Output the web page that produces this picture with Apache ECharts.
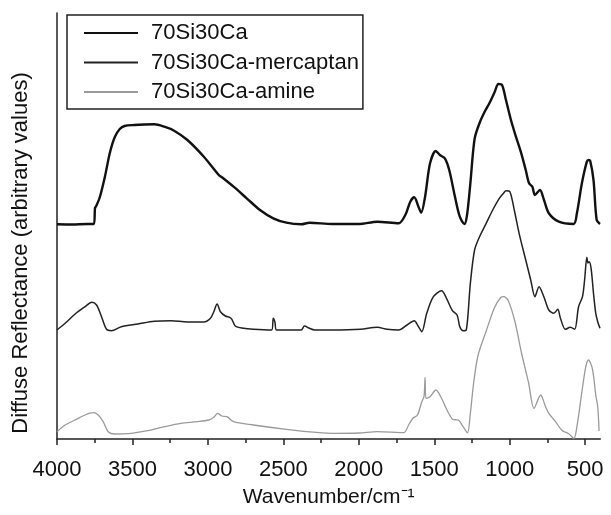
<!DOCTYPE html>
<html>
<head>
<meta charset="utf-8">
<script src="https://cdn.jsdelivr.net/npm/echarts@6/dist/echarts.min.js"></script>
<style>html,body{margin:0;padding:0;background:#fff}#c{width:611px;height:515px}</style>
</head>
<body>
<div id="c"></div>
<script>
// Series names
const seriesNames = ['70Si30Ca', '70Si30Ca-mercaptan', '70Si30Ca-amine'];

// 70Si30Ca (top trace)
const s1Wn = [4000, 3900, 3800, 3756, 3748, 3740, 3716, 3683, 3650, 3617, 3584, 3552, 3486, 3420, 3355, 3289, 3224, 3136, 3027, 2928, 2907, 2830, 2743, 2655, 2567, 2480, 2382, 2327, 2174, 2000, 1878, 1736, 1692, 1659, 1633, 1605, 1587, 1561, 1528, 1490, 1463, 1430, 1401, 1364, 1331, 1300, 1283, 1261, 1233, 1200, 1167, 1134, 1100, 1075, 1051, 1025, 992, 959, 927, 894, 872, 850, 833, 800, 773, 741, 675, 577, 555, 522, 489, 478, 467, 445, 424, 402];
const s1Val = [214.7, 214.5, 215, 215, 231, 233, 242, 262, 286, 302, 310, 313, 314, 314.5, 314.7, 312.3, 308.3, 299, 282.3, 264, 261.7, 252.3, 240.7, 229, 220.7, 216.3, 214.7, 216.3, 215, 215, 217.3, 215.7, 224, 237.3, 241.7, 232.3, 226.3, 242.3, 275.7, 288, 284, 280.7, 269, 243, 222.3, 215, 224, 255.7, 300, 316, 327, 336, 347, 355, 354, 339, 319, 302.3, 287.3, 269, 255.7, 252.3, 244, 249, 239, 225.7, 217.3, 215, 225.7, 255.7, 277.3, 279, 278.3, 259, 219, 215];

// 70Si30Ca-mercaptan (middle trace)
const s2Wn = [4000, 3946, 3880, 3814, 3770, 3738, 3705, 3672, 3639, 3574, 3464, 3355, 3245, 3136, 3027, 2983, 2961, 2939, 2917, 2884, 2856, 2841, 2819, 2764, 2699, 2578, 2567, 2556, 2545, 2480, 2382, 2360, 2327, 2294, 2174, 1988, 1878, 1813, 1736, 1681, 1633, 1605, 1583, 1550, 1506, 1452, 1419, 1380, 1349, 1331, 1309, 1288, 1261, 1233, 1200, 1156, 1113, 1069, 1040, 1025, 999, 970, 938, 894, 861, 833, 806, 774, 741, 708, 682, 664, 631, 599, 570, 544, 518, 504, 489, 482, 474, 461, 445, 430, 417, 402];
const s2Val = [109, 115.7, 125, 132.3, 136.7, 134, 122.3, 109.7, 108.3, 112.3, 115, 117.7, 118.3, 117, 117, 120.7, 127.3, 135, 127.3, 123, 121.7, 119.7, 113, 110.7, 109.7, 109, 120.7, 117, 109, 109, 109, 113, 110.7, 109, 109, 109.7, 111.7, 109.7, 109, 114, 118.3, 112.3, 107.3, 125.7, 142.3, 148.3, 140.7, 128.3, 124, 112.3, 108.3, 109, 155.7, 189, 202.3, 215.7, 229, 240.7, 246, 248.3, 247.3, 229, 205.7, 179, 159, 142.3, 152.3, 142.3, 129, 125.7, 129.7, 120.7, 109.7, 111.7, 109.7, 132.3, 142.3, 159, 181.7, 176, 177.3, 170.7, 145.7, 125.7, 117.3, 110.7];

// 70Si30Ca-amine (bottom trace)
const s3Wn = [4000, 3946, 3880, 3814, 3760, 3727, 3694, 3661, 3617, 3508, 3398, 3289, 3180, 3071, 2994, 2961, 2935, 2907, 2874, 2830, 2699, 2480, 2261, 2174, 2000, 1878, 1703, 1670, 1642, 1611, 1583, 1568, 1561, 1555, 1528, 1489, 1452, 1419, 1375, 1342, 1309, 1280, 1261, 1240, 1211, 1156, 1102, 1060, 1040, 1010, 965, 922, 875, 839, 795, 763, 741, 697, 653, 609, 575, 555, 522, 496, 478, 452, 430, 417, 408];
const s3Val = [7.3, 14, 19, 24, 26.3, 24, 17.3, 7.3, 5, 5.7, 8.3, 12.3, 15.7, 17.3, 19, 21.7, 25.7, 23, 22.3, 17.3, 14, 9.7, 6.3, 5.7, 6, 7.3, 6.3, 14, 20.7, 24, 37.3, 42.3, 61.7, 40.7, 42.3, 49, 40.7, 30, 19.5, 19, 12.3, 6.3, 25.7, 55, 83, 108, 131, 141.5, 142.3, 138.5, 117, 86, 56, 30.7, 44, 32.3, 25.7, 17.3, 8.5, 5.2, 0.7, 12.3, 47, 72.3, 79, 70, 44, 32.3, 8];

// Axis ticks
const majorTicks = [4000, 3500, 3000, 2500, 2000, 1500, 1000, 500];
const minorTicks = [3750, 3250, 2750, 2250, 1750, 1250, 750];

const FONT = '"Liberation Sans", Arial, Helvetica, sans-serif';
const pairs = (xs, ys) => xs.map((x, i) => [x, ys[i]]);

const chart = echarts.init(document.getElementById('c'), null, {renderer: 'canvas'});
chart.setOption({
  animation: false,
  backgroundColor: '#fff',
  grid: {left: 57, right: 6, top: 13, bottom: 76},
  legend: {
    orient: 'vertical', left: 67, top: 15,
    padding: [7, 4, 6, 16],
    itemWidth: 54, itemHeight: 20, itemGap: 7.5,
    borderColor: '#222', borderWidth: 1.5,
    itemStyle: {opacity: 0},
    textStyle: {fontSize: 22, fontFamily: FONT, color: '#111', lineHeight: 20, padding: [0, 0, 0, 8]},
    data: seriesNames
  },
  xAxis: [{
    type: 'value', inverse: true, min: 400, max: 4000, position: 'bottom',
    axisLine: {show: true, onZero: false, lineStyle: {color: '#222', width: 1.5}},
    axisTick: {show: true, inside: false, length: 6, customValues: majorTicks, lineStyle: {color: '#222', width: 1.5}},
    axisLabel: {show: true, customValues: majorTicks, formatter: v => String(v), fontSize: 22, fontFamily: FONT, color: '#111', margin: 20},
    splitLine: {show: false},
    name: 'Wavenumber/cm\u207B\u00B9', nameLocation: 'middle', nameGap: 48,
    nameTextStyle: {fontSize: 21, fontFamily: FONT, color: '#111'}
  }, {
    type: 'value', inverse: true, min: 400, max: 4000, position: 'bottom', offset: 0,
    axisLine: {show: false},
    axisTick: {show: true, inside: false, length: 4, customValues: minorTicks, lineStyle: {color: '#222', width: 1.5}},
    axisLabel: {show: false},
    splitLine: {show: false}
  }],
  yAxis: {
    type: 'value', min: 0, max: 426,
    axisLine: {show: true, lineStyle: {color: '#222', width: 1.5}},
    axisTick: {show: false}, axisLabel: {show: false}, splitLine: {show: false}
  },
  graphic: [{
    type: 'text', x: 21, y: 253, rotation: Math.PI / 2,
    style: {text: 'Diffuse Reflectance (arbitrary values)', fontSize: 22, fontFamily: FONT, fill: '#111', align: 'center', verticalAlign: 'middle'}
  }],
  series: [
    {name: seriesNames[0], type: 'line', symbol: 'none', smooth: 0.3, xAxisIndex: 0, data: pairs(s1Wn, s1Val), lineStyle: {color: '#111', width: 2.4}, itemStyle: {color: '#111'}, z: 3},
    {name: seriesNames[1], type: 'line', symbol: 'none', smooth: 0.3, xAxisIndex: 0, data: pairs(s2Wn, s2Val), lineStyle: {color: '#222', width: 1.5}, itemStyle: {color: '#222'}, z: 2},
    {name: seriesNames[2], type: 'line', symbol: 'none', smooth: 0.3, xAxisIndex: 0, data: pairs(s3Wn, s3Val), lineStyle: {color: '#9a9a9a', width: 1.3}, itemStyle: {color: '#9a9a9a'}, z: 1}
  ]
});
</script>
</body>
</html>
